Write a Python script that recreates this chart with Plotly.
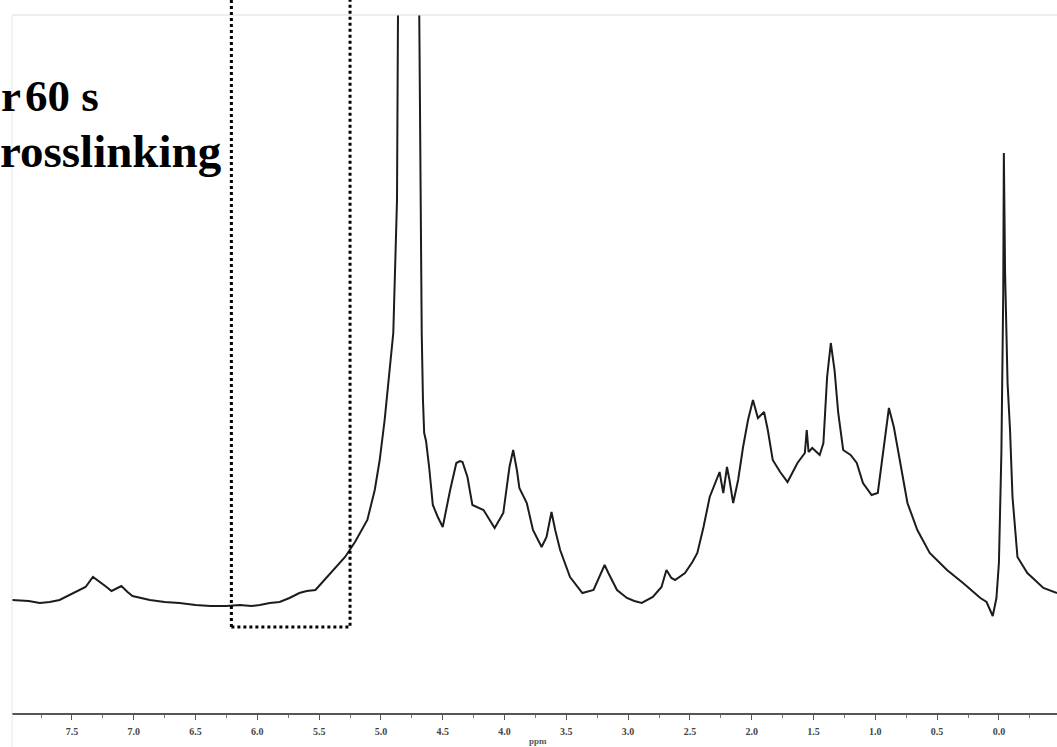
import plotly.graph_objects as go

# Chemical shift (ppm) and intensity (arbitrary units)
ppm = [7.99, 7.85, 7.76, 7.68, 7.60, 7.52, 7.45, 7.39, 7.33, 7.27, 7.22, 7.18, 7.10, 7.05, 7.01,
       6.87, 6.75, 6.63, 6.50, 6.38, 6.25, 6.14, 6.05, 5.98, 5.90, 5.82, 5.74, 5.66, 5.60, 5.53,
       5.47, 5.41, 5.35, 5.29, 5.21, 5.17, 5.11, 5.05, 5.01, 4.97, 4.94, 4.90, 4.87, 4.86, 4.82,
       4.78, 4.74, 4.69, 4.68, 4.67, 4.66, 4.65, 4.635, 4.625, 4.61, 4.58, 4.54, 4.50, 4.44, 4.39,
       4.36, 4.34, 4.30, 4.26, 4.21, 4.17, 4.12, 4.08, 4.01, 3.96, 3.93, 3.90, 3.88, 3.82, 3.77,
       3.70, 3.66, 3.62, 3.59, 3.55, 3.47, 3.37, 3.28, 3.23, 3.19, 3.16, 3.09, 3.01, 2.95, 2.89,
       2.80, 2.73, 2.69, 2.65, 2.62, 2.54, 2.48, 2.44, 2.39, 2.34, 2.31, 2.26, 2.23, 2.20, 2.18,
       2.15, 2.11, 2.07, 2.03, 1.99, 1.95, 1.90, 1.87, 1.83, 1.77, 1.71, 1.63, 1.57, 1.555, 1.54,
       1.51, 1.45, 1.42, 1.39, 1.36, 1.33, 1.30, 1.26, 1.20, 1.15, 1.10, 1.03, 0.98, 0.94, 0.89,
       0.85, 0.80, 0.74, 0.66, 0.56, 0.42, 0.29, 0.15, 0.10, 0.05, 0.02, 0.00, -0.02, -0.035, -0.04,
       -0.05, -0.07, -0.09, -0.11, -0.15, -0.23, -0.36, -0.47]
intensity = [113, 112, 110, 111, 113, 118, 122, 126, 136, 131, 126, 122, 127, 121, 117,
             113, 111, 110, 108, 107, 107, 108, 107, 108, 110, 111, 115, 120, 122, 123,
             131, 140, 148, 156, 171, 180, 193, 223, 253, 293, 333, 380, 513, 698, 1500,
             2600, 1500, 698, 513, 380, 313, 280, 272, 262, 246, 208, 196, 186, 223, 250,
             252, 251, 236, 208, 205, 203, 193, 185, 200, 246, 263, 243, 225, 210, 183,
             166, 176, 201, 183, 163, 136, 120, 123, 136, 148, 140, 123, 115, 112, 110,
             116, 126, 143, 135, 133, 140, 151, 160, 186, 216, 226, 241, 220, 246, 233,
             210, 233, 266, 293, 313, 295, 301, 283, 253, 241, 231, 250, 260, 283, 261,
             265, 258, 270, 336, 370, 343, 300, 263, 258, 250, 230, 218, 220, 260, 305,
             286, 253, 210, 183, 160, 143, 130, 115, 111, 97, 115, 150, 260, 420, 560,
             440, 330, 283, 216, 156, 140, 125, 120]

tick_vals = [7.5, 7.0, 6.5, 6.0, 5.5, 5.0, 4.5, 4.0, 3.5, 3.0, 2.5, 2.0, 1.5, 1.0, 0.5, 0.0]
tick_text = ["7.5", "7.0", "6.5", "6.0", "5.5", "5.0", "4.5", "4.0", "3.5", "3.0", "2.5", "2.0",
             "1.5", "1.0", "0.5", "0.0"]

x_range = [7.985, -0.47]
y_range = [0, 698]
box_ppm = [6.21, 5.25]

fig = go.Figure()
fig.add_trace(go.Scatter(x=ppm, y=intensity, mode="lines",
                         line=dict(color="#1c1c1c", width=2), hoverinfo="skip",
                         showlegend=False))

serif = "Liberation Serif"
fig.update_layout(
    width=1057, height=747,
    margin=dict(l=12, r=0, t=15, b=34),
    paper_bgcolor="white", plot_bgcolor="white",
    xaxis=dict(range=x_range, showgrid=False, zeroline=False,
               showline=True, linecolor="#555555", linewidth=2,
               ticks="outside", ticklen=5, tickwidth=1, tickcolor="#555555",
               tickvals=tick_vals, ticktext=tick_text, ticklabelstandoff=3,
               minor=dict(dtick=0.25, tick0=0, ticks="outside", ticklen=3,
                          tickcolor="#777777", tickwidth=1, showgrid=False),
               tickfont=dict(family=serif, size=10, color="#444444", weight="bold")),
    yaxis=dict(range=y_range, visible=False, showgrid=False, zeroline=False),
    annotations=[
        dict(text="<b>r</b>", xref="paper", yref="paper", x=-0.0125, y=0.884,
             xanchor="left", yanchor="middle", showarrow=False,
             font=dict(family=serif, size=45, color="black")),
        dict(text="<b>60 s</b>", xref="paper", yref="paper", x=0.0105, y=0.884,
             xanchor="left", yanchor="middle", showarrow=False,
             font=dict(family=serif, size=45, color="black")),
        dict(text="<b>rosslinking</b>", xref="paper", yref="paper", x=-0.0135, y=0.805,
             xanchor="left", yanchor="middle", showarrow=False,
             font=dict(family=serif, size=47, color="black")),
        dict(text="<b>ppm</b>", xref="paper", yref="paper", x=0.503, y=-0.040,
             xanchor="center", yanchor="middle", showarrow=False,
             font=dict(family=serif, size=9, color="#555555")),
    ],
    shapes=[
        dict(type="line", xref="paper", yref="paper", x0=0, x1=1, y0=1, y1=1,
             line=dict(color="#dddddd", width=1)),
        dict(type="line", xref="paper", yref="paper", x0=0, x1=0, y0=1, y1=-0.05,
             line=dict(color="#e6e6e6", width=1)),
        dict(type="rect", xref="x", yref="paper", x0=box_ppm[0], x1=box_ppm[1],
             y0=0.1232, y1=1.06, line=dict(color="black", width=3, dash="dot"),
             layer="above"),
    ],
)

fig.write_html("out.html", config={"displayModeBar": False},
               post_script="document.body.style.margin='0';document.body.style.overflow='hidden';")
